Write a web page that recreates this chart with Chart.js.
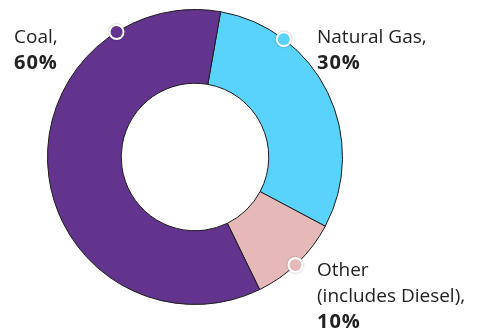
<!DOCTYPE html>
<html>
<head>
<meta charset="utf-8">
<script src="https://cdn.jsdelivr.net/npm/chart.js@4/dist/chart.umd.min.js"></script>
<style>
  html, body { margin: 0; padding: 0; background: #fff; }
  #wrap { position: relative; width: 478px; height: 333px; }
  .lbl {
    position: absolute;
    font-family: "Open Sans", sans-serif;
    font-size: 19px;
    line-height: 26px;
    color: #222;
    white-space: nowrap;
  }
  .lbl b { font-weight: 700; font-size: 20px; letter-spacing: 1px; }
</style>
</head>
<body>
<div id="wrap">
  <canvas id="chart" width="478" height="333"></canvas>
  <div class="lbl" style="left:14px; top:23px;">Coal,<br><b>60%</b></div>
  <div class="lbl" style="left:317px; top:23px;">Natural Gas,<br><b>30%</b></div>
  <div class="lbl" style="left:317px; top:256px;">Other<br>(includes Diesel),<br><b>10%</b></div>
</div>
<script>
const labels = ['Natural Gas', 'Other', 'Coal'];
const shares = [30, 10, 60];
const colors = ['#5AD3FC', '#E6B9B9', '#62348D'];

// small round markers sitting on the outer edge of each slice
const dotPlugin = {
  id: 'dots',
  afterDatasetsDraw(chart, args, opts) {
    const ctx = chart.ctx;
    const arcs = chart.getDatasetMeta(0).data;
    arcs.forEach((arc, i) => {
      const a = arc.startAngle + (arc.endAngle - arc.startAngle) * opts.at[i];
      const x = arc.x + Math.cos(a) * arc.outerRadius;
      const y = arc.y + Math.sin(a) * arc.outerRadius;
      ctx.save();
      ctx.shadowColor = 'rgba(0,0,0,0.35)';
      ctx.shadowBlur = 2;
      ctx.beginPath();
      ctx.arc(x, y, 8, 0, Math.PI * 2);
      ctx.fillStyle = '#fff';
      ctx.fill();
      ctx.restore();
      ctx.beginPath();
      ctx.arc(x, y, 6, 0, Math.PI * 2);
      ctx.fillStyle = colors[i];
      ctx.fill();
    });
  }
};

new Chart(document.getElementById('chart'), {
  type: 'doughnut',
  data: {
    labels: labels,
    datasets: [{
      data: shares,
      backgroundColor: colors,
      borderColor: '#1c1c1c',
      borderWidth: 1
    }]
  },
  options: {
    responsive: false,
    animation: false,
    rotation: 10,
    cutout: '50%',
    layout: { padding: { left: 47, right: 135, top: 9, bottom: 28 } },
    plugins: {
      legend: { display: false },
      tooltip: { enabled: false },
      dots: { at: [0.25, 0.53, 0.805] }
    }
  },
  plugins: [dotPlugin]
});
</script>
</body>
</html>
